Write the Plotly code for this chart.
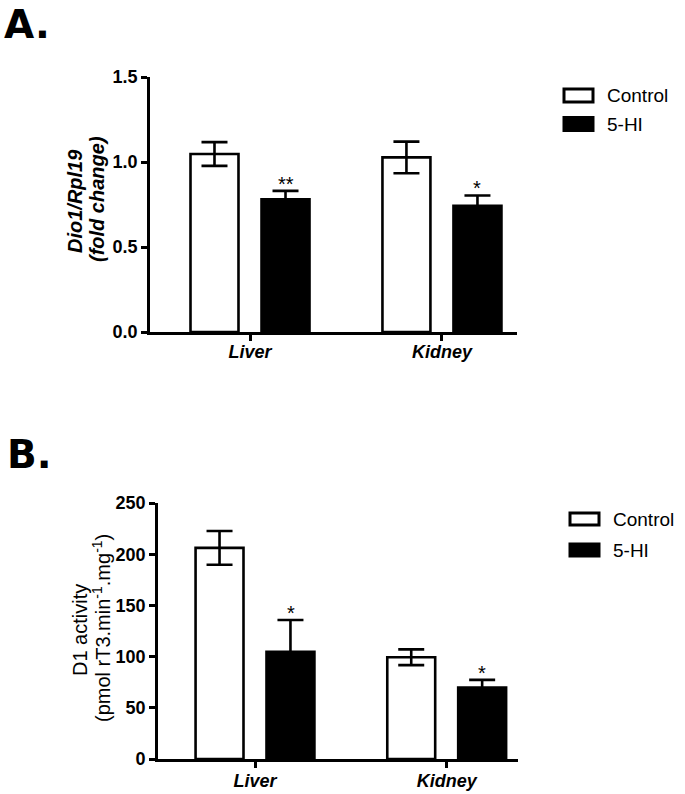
import plotly.graph_objects as go

W, H = 685, 794

categories = ["Liver", "Kidney"]
groups = ["Control", "5-HI"]

# Panel A: Dio1/Rpl19 (fold change)
a_control = [1.047, 1.027]
a_control_err = [0.07, 0.093]
a_5hi = [0.78, 0.743]
a_5hi_err = [0.05, 0.06]
a_stars = ["**", "*"]
a_yticks = [0.0, 0.5, 1.0, 1.5]
a_yticklabels = ["0.0", "0.5", "1.0", "1.5"]

# Panel B: D1 activity
b_control = [206.2, 99.4]
b_control_err = [16.5, 7.7]
b_5hi = [104.8, 69.8]
b_5hi_err = [31.0, 7.5]
b_stars = ["*", "*"]
b_yticks = [0, 50, 100, 150, 200, 250]

FONT = "Liberation Sans, Arial, sans-serif"
LW = 2.6

def px(x):
    return x / W

def py(y):
    return 1 - y / H

fig = go.Figure()

def add_panel(ctrl, ctrl_err, hi, hi_err, xa, ya):
    fig.add_trace(go.Bar(
        x=categories, y=ctrl, name=groups[0], xaxis=xa, yaxis=ya,
        width=0.25, offset=-0.31,
        marker=dict(color="white", line=dict(color="black", width=LW)),
        error_y=dict(type="data", array=ctrl_err, visible=True, color="black",
                     thickness=LW, width=13),
        showlegend=False, hoverinfo="skip",
    ))
    fig.add_trace(go.Bar(
        x=categories, y=hi, name=groups[1], xaxis=xa, yaxis=ya,
        width=0.25, offset=0.06,
        marker=dict(color="black", line=dict(color="black", width=LW)),
        error_y=dict(type="data", array=hi_err, visible=True, color="black",
                     thickness=LW, width=13),
        showlegend=False, hoverinfo="skip",
    ))

add_panel(a_control, a_control_err, a_5hi, a_5hi_err, "x", "y")
add_panel(b_control, b_control_err, b_5hi, b_5hi_err, "x2", "y2")

axis_common = dict(
    showgrid=False, zeroline=False, showline=True, linecolor="black",
    linewidth=LW, ticks="outside", tickwidth=LW, tickcolor="black",
    ticklen=6, automargin=False,
)

xtickfont = dict(size=18, weight="bold", style="italic", family=FONT)
ytickfont = dict(size=18, weight="bold", family=FONT)

fig.update_layout(
    width=W, height=H,
    margin=dict(l=0, r=0, t=0, b=0),
    paper_bgcolor="white", plot_bgcolor="white",
    barmode="overlay", showlegend=False,
    font=dict(family=FONT, color="black"),
    xaxis=dict(domain=[px(150), px(517)], anchor="y", type="category",
               range=[-0.521, 1.391], tickfont=xtickfont, ticklabelstandoff=-4,
               **axis_common),
    yaxis=dict(domain=[py(332), py(77)], anchor="x", range=[0, 1.5],
               tickvals=a_yticks, ticktext=a_yticklabels,
               tickfont=ytickfont, **axis_common),
    xaxis2=dict(domain=[px(158), px(518)], anchor="y2", type="category",
                range=[-0.506, 1.372], tickfont=xtickfont, ticklabelstandoff=-2,
                **axis_common),
    yaxis2=dict(domain=[py(759), py(503)], anchor="x2", range=[0, 250],
                tickvals=b_yticks, tickfont=ytickfont, **axis_common),
)

ann = []
# Panel letters
letter_font = dict(size=39, weight=900, family="DejaVu Sans, sans-serif")
ann.append(dict(text="A.", x=px(2), y=py(0), xref="paper", yref="paper",
                xanchor="left", yanchor="top", showarrow=False, font=letter_font))
ann.append(dict(text="B.", x=px(5), y=py(430), xref="paper", yref="paper",
                xanchor="left", yanchor="top", showarrow=False, font=letter_font))

# Y titles (each line placed separately)
def ytitle(text, x, y, font):
    ann.append(dict(text=text, x=px(x), y=py(y), xref="paper", yref="paper",
                    textangle=-90, showarrow=False, xanchor="center", yanchor="middle",
                    font=font))

fa = dict(size=20, weight="bold", style="italic", family=FONT)
ytitle("Dio1/Rpl19", 75, 201, fa)
ytitle("(fold change)", 97, 199, fa)
fb = dict(size=20, family=FONT)
ytitle("D1 activity", 80, 630, fb)
ytitle("(pmol rT3.min<sup>-1</sup>.mg<sup>-1</sup>)", 101, 628, fb)

# significance stars
for i, c in enumerate(categories):
    ann.append(dict(text=a_stars[i], x=c, y=a_5hi[i] + a_5hi_err[i], xref="x", yref="y",
                    xshift=0.185 * 192, yshift=-6, yanchor="bottom", showarrow=False,
                    font=dict(size=20, family=FONT)))
    ann.append(dict(text=b_stars[i], x=c, y=b_5hi[i] + b_5hi_err[i], xref="x2", yref="y2",
                    xshift=0.185 * 192, yshift=-6, yanchor="bottom", showarrow=False,
                    font=dict(size=20, family=FONT)))

# Custom legends (wide rectangles like the original)
shapes = []
def legend(x0, y_ctrl, y_hi, tx, bw, bh):
    shapes.append(dict(type="rect", xref="paper", yref="paper",
                       x0=px(x0), x1=px(x0 + bw), y0=py(y_ctrl + bh / 2), y1=py(y_ctrl - bh / 2),
                       line=dict(color="black", width=3), fillcolor="white"))
    shapes.append(dict(type="rect", xref="paper", yref="paper",
                       x0=px(x0), x1=px(x0 + bw), y0=py(y_hi + bh / 2), y1=py(y_hi - bh / 2),
                       line=dict(color="black", width=3), fillcolor="black"))
    for g, yy in zip(groups, [y_ctrl, y_hi]):
        ann.append(dict(text=g, x=px(tx), y=py(yy), xref="paper", yref="paper",
                        xanchor="left", yanchor="middle", showarrow=False,
                        font=dict(size=19, family=FONT)))

legend(564, 95.5, 124, 605, 29, 13)
legend(570, 519, 550, 611, 29, 12)

fig.update_layout(annotations=ann, shapes=shapes)

# remove the default 8px page margin so the figure fills the window exactly
fig.write_html("out.html", config={"displayModeBar": False},
               post_script="document.body.style.margin='0';")
